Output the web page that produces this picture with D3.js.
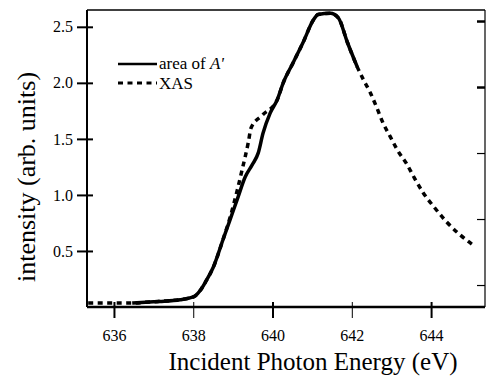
<!DOCTYPE html>
<html>
<head>
<meta charset="utf-8">
<script src="https://cdn.jsdelivr.net/npm/d3@7"></script>
<style>
  body { margin: 0; background: #fff; }
  svg text { font-family: "Liberation Serif", "DejaVu Serif", serif; fill: #000; }
</style>
</head>
<body>
<svg id="chart" width="494" height="379"></svg>
<script>
// area of A' (solid)
const areaE = [636.46, 636.9, 637.16, 637.67, 637.9, 638.05, 638.18, 638.32, 638.5, 638.75, 638.93, 639.11, 639.31, 639.49, 639.64, 639.76, 639.94, 640.12, 640.27, 640.52, 640.77, 641.03, 641.15, 641.46, 641.66, 641.89, 642.14];
const areaI = [0.036, 0.045, 0.05, 0.065, 0.08, 0.1, 0.15, 0.23, 0.35, 0.6, 0.78, 0.96, 1.16, 1.27, 1.375, 1.55, 1.73, 1.85, 2.0, 2.18, 2.36, 2.56, 2.61, 2.62, 2.58, 2.36, 2.14];

// XAS (dashed)
const xasE = [635.35, 635.8, 636.15, 636.5, 636.9, 637.5, 637.9, 638.05, 638.18, 638.32, 638.5, 638.75, 638.93, 639.13, 639.23, 639.31, 639.39, 639.46, 639.74, 640.12, 640.27, 640.52, 640.77, 641.03, 641.15, 641.46, 641.66, 641.89, 642.14, 642.29, 642.47, 642.64, 642.79, 642.97, 643.15, 643.38, 643.58, 643.8, 644.08, 644.39, 644.71, 645.07];
const xasI = [0.035, 0.035, 0.035, 0.036, 0.045, 0.06, 0.08, 0.1, 0.15, 0.23, 0.35, 0.6, 0.8, 1.07, 1.22, 1.34, 1.47, 1.6, 1.71, 1.85, 2.0, 2.18, 2.36, 2.56, 2.61, 2.62, 2.58, 2.36, 2.14, 2.03, 1.91, 1.77, 1.64, 1.52, 1.40, 1.28, 1.15, 1.02, 0.89, 0.76, 0.65, 0.55];

const xTicks = [636, 638, 640, 642, 644];
const yTicks = [0.5, 1.0, 1.5, 2.0, 2.5];
const rightTicks = [1, 2, 3, 4, 5];

const svg = d3.select('#chart');
const m = {l: 87, t: 10, r: 485, b: 307};

const x = d3.scaleLinear().domain([635.32, 645.36]).range([m.l, m.r]);
const y = d3.scaleLinear().domain([0, 2.65]).range([m.b, m.t]);
const y2 = d3.scaleLinear().domain([0.667, 5.167]).range([m.b, m.t]);

// frame
svg.append('line').attr('x1', m.l).attr('y1', m.t).attr('x2', m.r).attr('y2', m.t)
	.attr('stroke', '#000').attr('stroke-width', 1.5);
svg.append('line').attr('x1', m.r).attr('y1', m.t).attr('x2', m.r).attr('y2', m.b)
	.attr('stroke', '#000').attr('stroke-width', 1.2);

// left axis
const gy = svg.append('g').attr('transform', 'translate(' + m.l + ',0)')
	.call(d3.axisLeft(y).tickValues(yTicks).tickSize(10).tickPadding(4).tickFormat(d3.format('.1f')));
gy.select('.domain').remove();
gy.append('line').attr('x1', 0).attr('x2', 0).attr('y1', m.t).attr('y2', m.b)
	.attr('stroke', '#000').attr('stroke-width', 2);
gy.selectAll('.tick line').attr('x2', -10).attr('x1', 6).attr('stroke-width', 2);
gy.selectAll('.tick text').style('font-size', '16px').attr('font-family', null);

// bottom axis
const gx = svg.append('g').attr('transform', 'translate(0,' + m.b + ')')
	.call(d3.axisBottom(x).tickValues(xTicks).tickSize(11).tickPadding(12).tickFormat(d3.format('d')));
gx.select('.domain').remove();
gx.append('line').attr('x1', m.l).attr('x2', m.r).attr('y1', 0).attr('y2', 0)
	.attr('stroke', '#000').attr('stroke-width', 2.5);
gx.selectAll('.tick line').attr('y1', -5).attr('y2', 11)
	.attr('stroke-width', (d, i) => i % 2 == 0 ? 2 : 1);
gx.selectAll('.tick text').style('font-size', '16px').attr('font-family', null);

// right axis, ticks only
const gr = svg.append('g').attr('transform', 'translate(' + m.r + ',0)')
	.call(d3.axisLeft(y2).tickValues(rightTicks).tickSize(8).tickFormat(''));
gr.select('.domain').remove();
gr.selectAll('.tick line').attr('stroke-width', (d, i) => i >= 3 ? 2.5 : 1.2);

// curves
const line = d3.line().x(d => x(d[0])).y(d => y(d[1])).curve(d3.curveMonotoneX);

svg.append('path')
	.datum(d3.zip(xasE, xasI))
	.attr('d', line)
	.attr('fill', 'none')
	.attr('stroke', '#000')
	.attr('stroke-width', 3.5)
	.attr('stroke-dasharray', '5,4.5');

svg.append('path')
	.datum(d3.zip(areaE, areaI))
	.attr('d', line)
	.attr('fill', 'none')
	.attr('stroke', '#000')
	.attr('stroke-width', 3.5);

// legend
const lg = svg.append('g');
lg.append('line').attr('x1', 118).attr('x2', 157).attr('y1', 64).attr('y2', 64)
	.attr('stroke', '#000').attr('stroke-width', 2.5);
lg.append('line').attr('x1', 118).attr('x2', 157).attr('y1', 83).attr('y2', 83)
	.attr('stroke', '#000').attr('stroke-width', 3).attr('stroke-dasharray', '5,4.5');
const t1 = lg.append('text').attr('x', 159).attr('y', 69).style('font-size', '17px');
t1.append('tspan').text('area of ');
t1.append('tspan').style('font-style', 'italic').text("A'");
lg.append('text').attr('x', 159).attr('y', 89).style('font-size', '17px').text('XAS');

// axis titles
svg.append('text')
	.attr('x', 313).attr('y', 370)
	.attr('text-anchor', 'middle')
	.style('font-size', '25px')
	.text('Incident Photon Energy (eV)');

svg.append('text')
	.attr('transform', 'translate(35,177) rotate(-90)')
	.attr('text-anchor', 'middle')
	.style('font-size', '26px')
	.text('intensity (arb. units)');
</script>
</body>
</html>
